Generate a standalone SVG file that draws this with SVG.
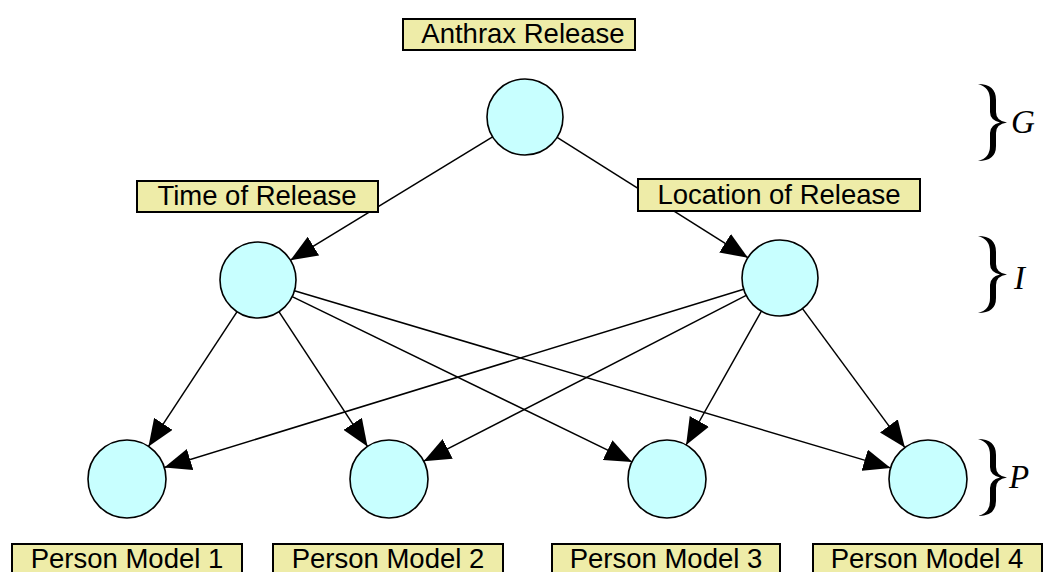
<svg xmlns="http://www.w3.org/2000/svg" width="1044" height="572" viewBox="0 0 1044 572">
<defs>
<marker id="ah" viewBox="0 0 27 22" refX="27" refY="11" markerWidth="27" markerHeight="22" markerUnits="userSpaceOnUse" orient="auto">
<path d="M0,0 L27,11 L0,22 Z" fill="#000"/>
</marker>
<path id="brace" d="M0,1 Q18,1 18,17 L18,29 Q18,38 29,39.5 Q18,41 18,50 L18,63 Q18,78 0,78 Q12,75 12,63 L12,50 Q12,42 22,39.5 Q12,37 12,29 L12,17 Q12,4 0,1 Z" fill="#000"/>
</defs>
<style>
.lbl{fill:#eeeca8;stroke:#000;stroke-width:2}
.txt{font-family:"Liberation Sans",Arial,sans-serif;font-size:27.5px;fill:#000;text-anchor:middle}
.nd{fill:#c8ffff;stroke:#000;stroke-width:1.6}
.ed{stroke:#000;stroke-width:1.5;fill:none;marker-end:url(#ah)}
.math{font-family:"Liberation Serif","Times New Roman",serif;font-style:italic;font-size:33px;fill:#000}
</style>
<rect width="1044" height="572" fill="#fff"/>
<g id="connectors">
<line class="ed" x1="492.6" y1="136.8" x2="290.4" y2="260.2"/>
<line class="ed" x1="557.1" y1="137.3" x2="747.9" y2="257.7"/>
<line class="ed" x1="237.1" y1="311.7" x2="148.5" y2="446.4"/>
<line class="ed" x1="278.9" y1="311.7" x2="367.5" y2="446.4"/>
<line class="ed" x1="292.2" y1="296.6" x2="631.9" y2="461.9"/>
<line class="ed" x1="294.4" y1="290.8" x2="890.6" y2="467.9"/>
<line class="ed" x1="743.7" y1="289.2" x2="164.3" y2="467.5"/>
<line class="ed" x1="746.2" y1="295.4" x2="423.7" y2="461.2"/>
<line class="ed" x1="761.4" y1="311.1" x2="686.1" y2="445.0"/>
<line class="ed" x1="802.5" y1="308.6" x2="904.9" y2="447.6"/>
</g>
<g id="anthrax">
<rect class="lbl" x="403" y="19" width="232" height="31"/>
<text class="txt" x="523" y="43">Anthrax Release</text>
<circle class="nd" cx="525" cy="117" r="38"/>
</g>
<g id="time">
<rect class="lbl" x="137" y="181" width="241" height="31"/>
<text class="txt" x="257" y="205">Time of Release</text>
<circle class="nd" cx="258" cy="280" r="38"/>
</g>
<g id="location">
<rect class="lbl" x="638" y="179" width="282" height="32"/>
<text class="txt" x="779" y="204">Location of Release</text>
<circle class="nd" cx="780" cy="278" r="38"/>
</g>
<g id="pm1">
<circle class="nd" cx="127" cy="479" r="39"/>
<rect class="lbl" x="12" y="544" width="230" height="32"/>
<text class="txt" x="127" y="568">Person Model 1</text>
</g>
<g id="pm2">
<circle class="nd" cx="389" cy="479" r="39"/>
<rect class="lbl" x="273" y="544" width="230" height="32"/>
<text class="txt" x="388" y="568">Person Model 2</text>
</g>
<g id="pm3">
<circle class="nd" cx="667" cy="479" r="39"/>
<rect class="lbl" x="552" y="544" width="228" height="32"/>
<text class="txt" x="666" y="568">Person Model 3</text>
</g>
<g id="pm4">
<circle class="nd" cx="928" cy="479" r="39"/>
<rect class="lbl" x="813" y="544" width="229" height="32"/>
<text class="txt" x="927" y="568">Person Model 4</text>
</g>
<g id="brace-g">
<use href="#brace" transform="translate(978,83)"/>
<text class="math" x="1011" y="133">G</text>
</g>
<g id="brace-i">
<use href="#brace" transform="translate(978,235)"/>
<text class="math" x="1014" y="289">I</text>
</g>
<g id="brace-p">
<use href="#brace" transform="translate(978,438)"/>
<text class="math" x="1009" y="488">P</text>
</g>
</svg>
